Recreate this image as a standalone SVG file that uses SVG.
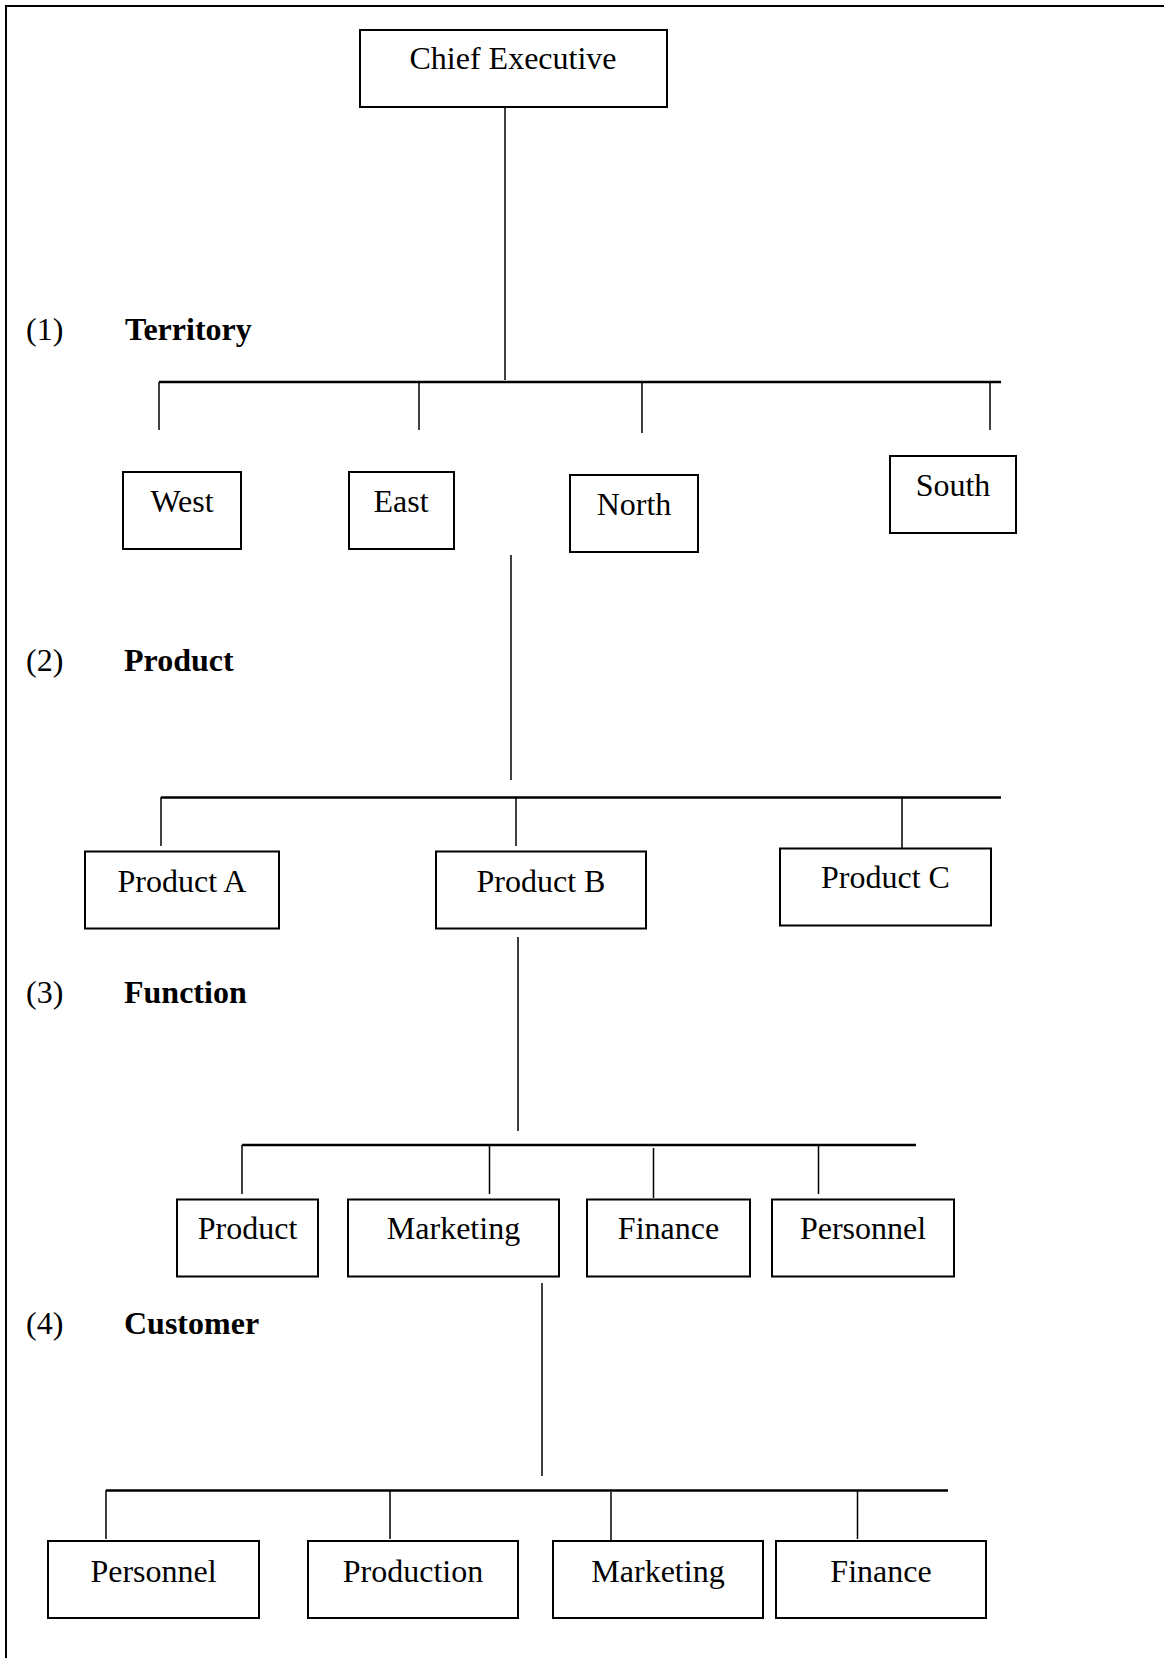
<svg xmlns="http://www.w3.org/2000/svg" width="1164" height="1658" viewBox="0 0 1164 1658">
<style>
.box{fill:#fff;stroke:#000;stroke-width:2}
.t{font-family:"Liberation Serif","Times New Roman",serif;font-size:32px;text-anchor:middle;fill:#000}
.lbl{font-family:"Liberation Serif","Times New Roman",serif;font-size:32px;fill:#000}
.b{font-weight:bold}
.ln{stroke:#000;stroke-width:1.5;fill:none}
.bar{stroke:#000;stroke-width:2.5;fill:none}
</style>
<rect x="0" y="0" width="1164" height="1658" fill="#fff"/>
<path d="M6,1658 V6 H1164" fill="none" stroke="#000" stroke-width="2"/>
<g id="labels">
<text class="lbl" x="26" y="340">(1)</text><text class="lbl b" x="125" y="340">Territory</text>
<text class="lbl" x="26" y="671">(2)</text><text class="lbl b" x="124" y="671">Product</text>
<text class="lbl" x="26" y="1003">(3)</text><text class="lbl b" x="124" y="1003">Function</text>
<text class="lbl" x="26" y="1334">(4)</text><text class="lbl b" x="124" y="1334">Customer</text>
</g>
<g id="connectors">
<line class="ln" x1="505" y1="107" x2="505" y2="380"/>
<line class="bar" x1="159" y1="382" x2="1001" y2="382"/>
<line class="ln" x1="159" y1="382" x2="159" y2="430"/>
<line class="ln" x1="419" y1="382" x2="419" y2="430"/>
<line class="ln" x1="642" y1="383" x2="642" y2="433"/>
<line class="ln" x1="990" y1="382" x2="990" y2="430"/>
<line class="ln" x1="511" y1="555" x2="511" y2="780"/>
<line class="bar" x1="161" y1="797.5" x2="1001" y2="797.5"/>
<line class="ln" x1="161" y1="797" x2="161" y2="846"/>
<line class="ln" x1="516" y1="797" x2="516" y2="846"/>
<line class="ln" x1="902" y1="797" x2="902" y2="848"/>
<line class="ln" x1="518" y1="937" x2="518" y2="1131"/>
<line class="bar" x1="242" y1="1145" x2="916" y2="1145"/>
<line class="ln" x1="242" y1="1145" x2="242" y2="1194"/>
<line class="ln" x1="489.5" y1="1145" x2="489.5" y2="1194"/>
<line class="ln" x1="653.5" y1="1148" x2="653.5" y2="1198"/>
<line class="ln" x1="818.5" y1="1145" x2="818.5" y2="1194"/>
<line class="ln" x1="542" y1="1283" x2="542" y2="1476"/>
<line class="bar" x1="106" y1="1490.5" x2="948" y2="1490.5"/>
<line class="ln" x1="106" y1="1490" x2="106" y2="1539"/>
<line class="ln" x1="390" y1="1490" x2="390" y2="1539"/>
<line class="ln" x1="611" y1="1492" x2="611" y2="1540"/>
<line class="ln" x1="857.5" y1="1490" x2="857.5" y2="1539"/>
</g>
<g id="chief"><rect class="box" x="360" y="30" width="307" height="77"/><text class="t" x="513" y="69">Chief Executive</text></g>
<g id="west"><rect class="box" x="123" y="472" width="118" height="77"/><text class="t" x="182" y="512">West</text></g>
<g id="east"><rect class="box" x="349" y="472" width="105" height="77"/><text class="t" x="401" y="512">East</text></g>
<g id="north"><rect class="box" x="570" y="475" width="128" height="77"/><text class="t" x="634" y="515">North</text></g>
<g id="south"><rect class="box" x="890" y="456" width="126" height="77"/><text class="t" x="953" y="496">South</text></g>
<g id="productA"><rect class="box" x="85" y="851.5" width="194" height="77"/><text class="t" x="182" y="891.5">Product A</text></g>
<g id="productB"><rect class="box" x="436" y="851.5" width="210" height="77"/><text class="t" x="541" y="891.5">Product B</text></g>
<g id="productC"><rect class="box" x="780" y="848.5" width="211" height="77"/><text class="t" x="885.5" y="888">Product C</text></g>
<g id="fn-product"><rect class="box" x="177" y="1199.5" width="141" height="77"/><text class="t" x="247.5" y="1239">Product</text></g>
<g id="fn-marketing"><rect class="box" x="348" y="1199.5" width="211" height="77"/><text class="t" x="453.5" y="1239">Marketing</text></g>
<g id="fn-finance"><rect class="box" x="587" y="1199.5" width="163" height="77"/><text class="t" x="668.5" y="1239">Finance</text></g>
<g id="fn-personnel"><rect class="box" x="772" y="1199.5" width="182" height="77"/><text class="t" x="863" y="1239">Personnel</text></g>
<g id="cu-personnel"><rect class="box" x="48" y="1541" width="211" height="77"/><text class="t" x="153.5" y="1581.5">Personnel</text></g>
<g id="cu-production"><rect class="box" x="308" y="1541" width="210" height="77"/><text class="t" x="413" y="1581.5">Production</text></g>
<g id="cu-marketing"><rect class="box" x="553" y="1541" width="210" height="77"/><text class="t" x="658" y="1581.5">Marketing</text></g>
<g id="cu-finance"><rect class="box" x="776" y="1541" width="210" height="77"/><text class="t" x="881" y="1581.5">Finance</text></g>
</svg>
